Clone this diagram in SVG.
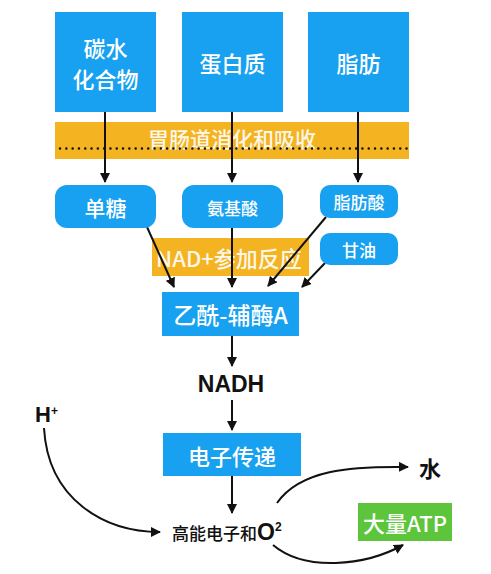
<svg xmlns="http://www.w3.org/2000/svg" width="491" height="574" viewBox="0 0 491 574">
<style>
.box{fill:#17a1f0}
.org{fill:#f4b320}
.grn{fill:#5cc53b}
.wt{fill:#ffffff;font-family:"Noto Sans CJK SC","Liberation Sans",sans-serif;font-weight:500;text-anchor:middle;dominant-baseline:central}
.bk{fill:#111111;font-family:"Liberation Sans","Noto Sans CJK SC",sans-serif;font-weight:bold}
.ln{stroke:#111111;stroke-width:2;fill:none}
</style>
<defs>
<marker id="ah" viewBox="0 0 10 10" refX="9" refY="5" markerWidth="5" markerHeight="5" orient="auto" markerUnits="strokeWidth">
<path d="M0,0 L10,5 L0,10 z" fill="#111111"/>
</marker>
</defs>
<rect width="491" height="574" fill="#ffffff"/>
<g id="band-digest">
<rect class="org" x="55" y="122" width="354" height="37"/>
<text class="wt" x="232" y="138" font-size="21" opacity="0.9">胃肠道消化和吸收</text>
<line x1="60" y1="148.5" x2="409" y2="148.5" stroke="#111" stroke-width="2.4" stroke-dasharray="0.1 6.2" stroke-linecap="round"/>
</g>
<g id="band-nad">
<rect class="org" x="152" y="238" width="157" height="38"/>
<text class="wt" x="229" y="257" font-size="22" opacity="0.9">NAD+参加反应</text>
</g>
<g id="connectors">
<line class="ln" x1="105" y1="112" x2="105" y2="182" marker-end="url(#ah)"/>
<line class="ln" x1="232" y1="112" x2="232" y2="182" marker-end="url(#ah)"/>
<line class="ln" x1="358" y1="112" x2="358" y2="182" marker-end="url(#ah)"/>
<line class="ln" x1="147" y1="227" x2="174" y2="287" marker-end="url(#ah)"/>
<line class="ln" x1="232" y1="228" x2="232" y2="287" marker-end="url(#ah)"/>
<line class="ln" x1="326" y1="217" x2="268" y2="286" marker-end="url(#ah)"/>
<line class="ln" x1="325" y1="263" x2="302" y2="287" marker-end="url(#ah)"/>
<line class="ln" x1="232" y1="336" x2="232" y2="366" marker-end="url(#ah)"/>
<line class="ln" x1="232" y1="400" x2="232" y2="430" marker-end="url(#ah)"/>
<line class="ln" x1="232" y1="476" x2="232" y2="513" marker-end="url(#ah)"/>
<path class="ln" d="M44,428 C48,500 105,532 160,532" marker-end="url(#ah)"/>
<path class="ln" d="M277,503 C300,470 350,466 408,467" marker-end="url(#ah)"/>
<path class="ln" d="M273,545 C305,572 365,566 403,545" marker-end="url(#ah)"/>
</g>
<g id="carb">
<rect class="box" x="55" y="12" width="101" height="100"/>
<text class="wt" x="105.5" y="47" font-size="22">碳水</text>
<text class="wt" x="105.5" y="78" font-size="22">化合物</text>
</g>
<g id="protein">
<rect class="box" x="182" y="12" width="101" height="100"/>
<text class="wt" x="232.5" y="62" font-size="22">蛋白质</text>
</g>
<g id="fat">
<rect class="box" x="308" y="12" width="101" height="100"/>
<text class="wt" x="358.5" y="62" font-size="22">脂肪</text>
</g>
<g id="sugar">
<rect class="box" x="55" y="185" width="101" height="43" rx="12"/>
<text class="wt" x="105.5" y="206.5" font-size="21">单糖</text>
</g>
<g id="amino">
<rect class="box" x="182" y="185" width="101" height="43" rx="12"/>
<text class="wt" x="232.5" y="207" font-size="17">氨基酸</text>
</g>
<g id="fattyacid">
<rect class="box" x="320" y="185" width="78" height="33" rx="10"/>
<text class="wt" x="359" y="201.5" font-size="17">脂肪酸</text>
</g>
<g id="glycerol">
<rect class="box" x="320" y="233" width="78" height="32" rx="10"/>
<text class="wt" x="359" y="249" font-size="17">甘油</text>
</g>
<g id="acetylcoa">
<rect class="box" x="162" y="292" width="137" height="44"/>
<text class="wt" x="230.5" y="314" font-size="23">乙酰-辅酶A</text>
</g>
<g id="nadh">
<text class="bk" x="231" y="392" font-size="23" text-anchor="middle">NADH</text>
</g>
<g id="etc">
<rect class="box" x="163" y="433" width="138" height="43"/>
<text class="wt" x="232" y="454.5" font-size="22">电子传递</text>
</g>
<g id="hplus">
<text class="bk" x="35" y="422" font-size="22">H<tspan font-size="12" dy="-7">+</tspan></text>
</g>
<g id="electrons">
<text x="172" y="540" fill="#111" font-family="'Noto Sans CJK SC','Liberation Sans',sans-serif" font-weight="500" font-size="17">高能电子和<tspan font-family="'Liberation Sans',sans-serif" font-weight="bold" font-size="23">O</tspan><tspan font-family="'Liberation Sans',sans-serif" font-weight="bold" font-size="12" dy="-9">2</tspan></text>
</g>
<g id="water">
<text x="419" y="477" fill="#111" font-family="'Noto Sans CJK SC',sans-serif" font-weight="bold" font-size="22">水</text>
</g>
<g id="atp">
<rect class="grn" x="358" y="503" width="94" height="38"/>
<text class="wt" x="405" y="522" font-size="22">大量ATP</text>
</g>
</svg>
